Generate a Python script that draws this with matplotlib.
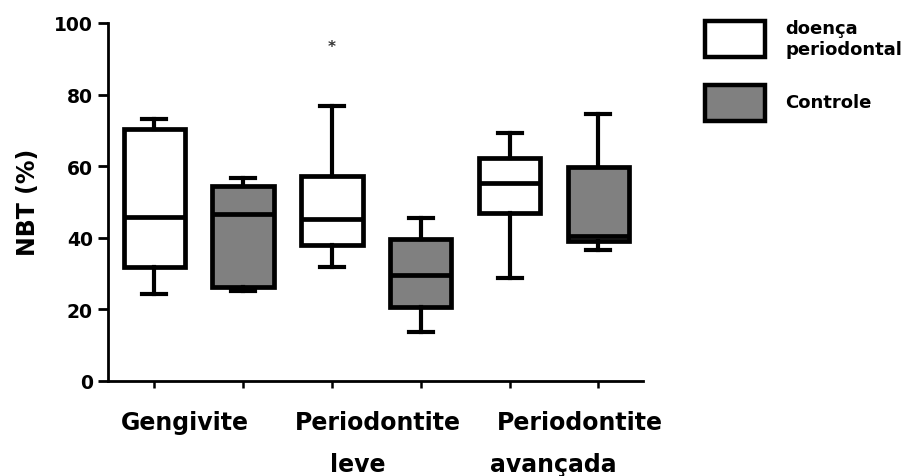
import matplotlib
matplotlib.use("Agg")
import matplotlib.pyplot as plt
from matplotlib.patches import Rectangle

# box statistics (NBT %), order: doença, controle per group
groups = ["Gengivite", "Periodontite\nleve", "Periodontite\navançada"]
series = ["doença\nperiodontal", "Controle"]
whislo = [24.2, 25.0, 31.7, 13.5, 28.6, 36.6]
q1 = [31.7, 26.1, 37.9, 20.5, 46.8, 39.1]
med = [45.7, 46.6, 45.2, 29.5, 55.2, 40.5]
q3 = [70.4, 54.5, 57.1, 39.6, 62.3, 59.7]
whishi = [73.2, 56.6, 76.7, 45.5, 69.2, 74.6]
star_pos, star_val = 2, 93.5

fills = ["white", "#808080"]

stats = [dict(whislo=a, q1=b, med=c, q3=d, whishi=e, fliers=[])
         for a, b, c, d, e in zip(whislo, q1, med, q3, whishi)]
positions = list(range(len(stats)))

fig = plt.figure(figsize=(9.21, 4.77), dpi=100)
ax = fig.add_axes([0.1173, 0.1998, 0.5807, 0.7499])

bp = ax.bxp(stats, positions=positions, widths=0.69, capwidths=0.27,
            patch_artist=True, showfliers=False,
            boxprops=dict(linewidth=3.4, edgecolor="black"),
            medianprops=dict(linewidth=3.4, color="black"),
            whiskerprops=dict(linewidth=3.0, color="black"),
            capprops=dict(linewidth=3.0, color="black"))
for i, box in enumerate(bp["boxes"]):
    box.set_facecolor(fills[i % 2])

ax.text(star_pos, star_val, "*", ha="center", va="center", fontsize=11,
        color="#333333", fontweight="bold")

ax.set_ylim(0, 100)
ax.set_xlim(-0.52, 5.5)
ax.set_yticks([0, 20, 40, 60, 80, 100])
ax.set_xticks(positions)
ax.set_xticklabels([])
for s in ["top", "right"]:
    ax.spines[s].set_visible(False)
for s in ["left", "bottom"]:
    ax.spines[s].set_linewidth(2.0)
ax.tick_params(axis="y", direction="out", length=7, width=2.0, pad=4,
               labelsize=13.5)
ax.tick_params(axis="x", direction="out", length=5, width=1.8)
for lab in ax.get_yticklabels():
    lab.set_fontweight("bold")
ax.set_ylabel("NBT (%)", fontsize=17, fontweight="bold", labelpad=10)

# category labels, each line placed separately
tr = ax.get_xaxis_transform()
label_x = [[0.34], [2.52, 2.29], [4.79, 4.49]]
for g, xs in zip(groups, label_x):
    for k, (line, x) in enumerate(zip(g.split("\n"), xs)):
        ax.text(x, -0.135 - k * 0.118, line, transform=tr, ha="center",
                va="baseline", fontsize=17, fontweight="bold")

# legend drawn by hand
box_y = [0.878, 0.744]
for lbl, color, y in zip(series, fills, box_y):
    fig.patches.append(Rectangle((0.765, y), 0.066, 0.075, transform=fig.transFigure,
                                 facecolor=color, edgecolor="black", linewidth=3.2))
    fig.text(0.853, y + 0.04, lbl, ha="left", va="center", fontsize=13,
             fontweight="bold", linespacing=1.2)

fig.savefig("out.png", dpi=100)
